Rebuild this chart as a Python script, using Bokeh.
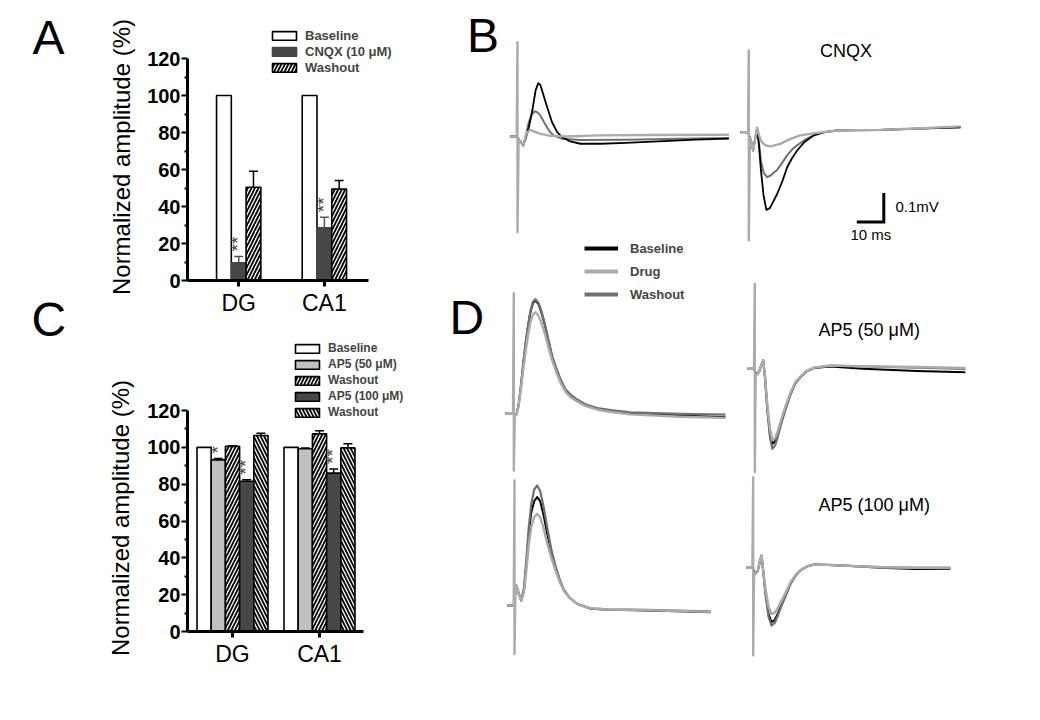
import math
from bokeh.plotting import figure
from bokeh.models import (Range1d, FixedTicker, Legend, LegendItem, Whisker, TeeHead,
                          ColumnDataSource)
from bokeh.layouts import row, column
from bokeh.embed import file_html
from bokeh.resources import INLINE
from bokeh.core.properties import value

FONT = "Liberation Sans"

# ----------------------------------------------------------------- data
groups = ["DG", "CA1"]
group_pos = [1, 2]
y_ticks = [0, 20, 40, 60, 80, 100, 120]
y_minor = [10, 30, 50, 70, 90, 110]
y_title = "Normalized amplitude (%)"

# Panel A  (normalized amplitude, %)
a_baseline = [100.0, 100.0]
a_cnqx = [9.6, 28.5]
a_cnqx_err = [3.4, 5.7]
a_washout = [50.4, 49.4]
a_washout_err = [8.6, 4.6]
a_cnqx_sig = ["**", "**"]

# Panel C  (normalized amplitude, %)
c_baseline = [100.0, 100.0]
c_ap5_50 = [93.2, 99.2]
c_ap5_50_err = [0.8, 0.4]
c_washout1 = [100.5, 107.3]
c_washout1_err = [0.4, 1.7]
c_ap5_100 = [81.6, 86.0]
c_ap5_100_err = [0.8, 2.3]
c_washout2 = [106.4, 99.7]
c_washout2_err = [1.3, 2.2]
c_ap5_50_sig = ["*", ""]
c_ap5_100_sig = ["**", "**"]

# Field potential traces (time in ms from stimulus, voltage in mV)
bl_base_t = [-2.8, -0.3, 0.8, 2.1, 3.1, 4.2, 5.0, 5.7, 6.7, 7.7, 8.4, 9.1, 10.0, 11.0, 12.8, 14.7, 16.5, 19.6, 23.3, 30.7, 40.0, 54.2, 66.0, 78.3]
bl_base_mv = [0.0, 0.0, -0.015, -0.031, -0.005, 0.032, 0.068, 0.101, 0.159, 0.184, 0.179, 0.159, 0.131, 0.101, 0.049, 0.015, -0.002, -0.017, -0.025, -0.025, -0.022, -0.016, -0.011, -0.007]
bl_wash_t = [-2.8, -0.3, 0.8, 2.1, 3.0, 4.2, 5.3, 6.4, 7.4, 8.5, 9.7, 11.0, 12.2, 13.5, 16.5, 23.3, 40.0, 60.0, 78.3]
bl_wash_mv = [0.0, 0.0, -0.015, -0.031, 0.0, 0.049, 0.076, 0.087, 0.083, 0.072, 0.052, 0.030, 0.014, 0.003, -0.008, -0.012, -0.011, -0.008, -0.005]
bl_drug_t = [-2.8, -0.3, 0.0, 0.0, 0.4, 1.0, 2.1, 3.0, 3.6, 4.8, 6.0, 8.5, 12.2, 18.4, 30.0, 50.0, 78.3]
bl_drug_mv = [0.0, 0.0, 0.325, -0.33, -0.01, -0.02, -0.031, 0.0, 0.015, 0.023, 0.018, 0.009, 0.002, 0.0, 0.004, 0.005, 0.006]

br_base_t = [-3.1, -0.3, 0.8, 1.6, 2.4, 3.1, 3.8, 4.5, 5.5, 6.5, 7.8, 9.0, 10.5, 12.4, 14.2, 16.0, 17.9, 20.5, 24.1, 28.0, 32.7, 48.8, 62.0, 78.4]
br_base_mv = [0.0, 0.0, -0.03, -0.063, -0.02, 0.015, -0.05, -0.132, -0.22, -0.268, -0.262, -0.24, -0.213, -0.17, -0.121, -0.09, -0.063, -0.035, -0.011, 0.0, 0.006, 0.008, 0.012, 0.017]
br_wash_t = [-3.1, -0.3, 0.8, 1.6, 2.4, 3.1, 3.8, 4.5, 5.5, 6.8, 8.0, 9.2, 10.5, 12.4, 14.2, 16.0, 17.9, 21.0, 24.1, 28.0, 32.7, 48.8, 62.0, 78.4]
br_wash_mv = [0.0, 0.0, -0.03, -0.063, -0.02, 0.015, -0.04, -0.10, -0.14, -0.155, -0.15, -0.14, -0.13, -0.105, -0.08, -0.06, -0.045, -0.025, -0.01, 0.0, 0.006, 0.008, 0.012, 0.017]
br_drug_t = [-3.1, -0.3, 0.0, 0.0, 0.4, 0.8, 1.6, 2.4, 3.1, 3.8, 4.5, 6.0, 8.0, 11.7, 15.0, 19.0, 24.0, 32.7, 48.8, 62.0, 78.4]
br_drug_mv = [0.0, 0.0, 0.282, -0.373, -0.02, -0.03, -0.063, -0.02, 0.015, -0.01, -0.03, -0.045, -0.049, -0.04, -0.025, -0.011, -0.004, 0.006, 0.008, 0.013, 0.02]

dtl_base_t = [-3.1, -0.3, 1.0, 1.8, 2.6, 3.5, 4.4, 5.3, 6.2, 7.1, 8.0, 9.2, 10.3, 11.4, 12.8, 14.2, 15.8, 17.3, 19.2, 21.3, 23.5, 26.5, 30.9, 36.0, 43.2, 61.7, 78.4]
dtl_base_mv = [0.0, 0.0, -0.005, 0.03, 0.09, 0.17, 0.24, 0.30, 0.35, 0.38, 0.389, 0.375, 0.345, 0.308, 0.25, 0.193, 0.15, 0.113, 0.078, 0.058, 0.044, 0.028, 0.015, 0.008, 0.0, -0.008, -0.014]
dtl_wash_t = dtl_base_t
dtl_wash_mv = [0.0, 0.0, -0.005, 0.03, 0.09, 0.172, 0.245, 0.305, 0.355, 0.385, 0.393, 0.38, 0.35, 0.312, 0.255, 0.198, 0.155, 0.117, 0.082, 0.062, 0.047, 0.031, 0.018, 0.011, 0.003, -0.002, -0.005]
dtl_drug_t = [-3.1, -0.3, 0.0, 0.0, 0.4, 1.0, 1.8, 2.6, 3.5, 4.4, 5.3, 6.2, 7.1, 8.0, 9.2, 10.3, 11.4, 12.8, 14.2, 15.8, 17.3, 19.2, 21.3, 23.5, 26.5, 30.9, 36.0, 43.2, 61.7, 78.4]
dtl_drug_mv = [0.0, 0.0, 0.414, -0.198, -0.01, -0.005, 0.025, 0.08, 0.15, 0.215, 0.27, 0.315, 0.34, 0.348, 0.335, 0.31, 0.278, 0.228, 0.182, 0.14, 0.105, 0.073, 0.053, 0.04, 0.025, 0.012, 0.004, -0.004, -0.012, -0.016]

dtr_base_t = [-2.8, -0.3, 0.6, 1.5, 2.3, 3.1, 3.8, 4.6, 5.6, 6.5, 7.5, 8.5, 9.6, 11.5, 13.3, 15.0, 16.9, 19.0, 21.9, 28.0, 40.0, 60.0, 78.0]
dtr_base_mv = [0.0, 0.0, -0.02, -0.012, 0.01, 0.029, -0.03, -0.132, -0.22, -0.259, -0.25, -0.225, -0.19, -0.135, -0.086, -0.05, -0.029, -0.01, 0.003, 0.008, 0.0, -0.008, -0.012]
dtr_wash_t = dtr_base_t
dtr_wash_mv = [0.0, 0.0, -0.02, -0.012, 0.01, 0.029, -0.035, -0.14, -0.235, -0.276, -0.265, -0.235, -0.195, -0.135, -0.086, -0.05, -0.029, -0.01, 0.003, 0.011, 0.008, 0.004, 0.0]
dtr_drug_t = [-2.8, -0.3, 0.0, 0.0, 0.3, 0.6, 1.5, 2.3, 3.1, 3.8, 4.6, 5.6, 6.5, 7.5, 8.5, 9.6, 11.5, 13.3, 15.0, 16.9, 19.0, 21.9, 28.0, 40.0, 60.0, 78.0]
dtr_drug_mv = [0.0, 0.0, 0.293, -0.356, -0.03, -0.02, -0.012, 0.01, 0.029, -0.025, -0.12, -0.205, -0.245, -0.24, -0.215, -0.18, -0.125, -0.08, -0.046, -0.027, -0.008, 0.004, 0.011, 0.009, 0.006, 0.003]

dbl_base_t = [-2.7, -0.3, 0.7, 1.6, 2.5, 3.5, 4.4, 5.3, 6.2, 7.3, 8.4, 9.5, 10.8, 12.1, 13.6, 15.2, 16.8, 18.3, 20.5, 23.2, 28.0, 35.0, 49.0, 60.0, 72.6]
dbl_base_mv = [0.0, 0.0, 0.069, 0.04, 0.017, 0.05, 0.14, 0.25, 0.32, 0.36, 0.374, 0.36, 0.31, 0.247, 0.185, 0.132, 0.085, 0.052, 0.025, 0.006, -0.011, -0.015, -0.017, -0.02, -0.023]
dbl_wash_t = dbl_base_t
dbl_wash_mv = [0.0, 0.0, 0.069, 0.04, 0.017, 0.06, 0.16, 0.27, 0.35, 0.40, 0.414, 0.395, 0.34, 0.27, 0.195, 0.135, 0.088, 0.054, 0.026, 0.006, -0.01, -0.013, -0.015, -0.018, -0.02]
dbl_drug_t = [-2.7, -0.3, 0.0, 0.0, 0.3, 0.7, 1.6, 2.5, 3.5, 4.4, 5.3, 6.2, 7.3, 8.4, 9.5, 10.8, 12.1, 13.6, 15.2, 16.8, 18.3, 20.5, 23.2, 28.0, 35.0, 49.0, 60.0, 72.6]
dbl_drug_mv = [0.0, 0.0, 0.431, -0.167, 0.03, 0.069, 0.04, 0.017, 0.045, 0.12, 0.21, 0.27, 0.305, 0.316, 0.305, 0.265, 0.215, 0.165, 0.12, 0.08, 0.05, 0.025, 0.006, -0.01, -0.014, -0.016, -0.019, -0.022]

dbr_base_t = [-2.5, -0.3, 0.8, 1.7, 2.4, 3.1, 3.8, 4.6, 5.7, 6.8, 8.0, 9.0, 10.1, 12.0, 13.8, 15.6, 17.5, 20.0, 22.4, 28.0, 34.8, 47.1, 60.0, 73.0]
dbr_base_mv = [0.0, 0.0, -0.02, -0.01, 0.02, 0.042, -0.02, -0.09, -0.16, -0.187, -0.18, -0.16, -0.136, -0.095, -0.055, -0.028, -0.009, 0.005, 0.011, 0.01, 0.007, 0.0, -0.004, -0.003]
dbr_wash_t = dbr_base_t
dbr_wash_mv = [0.0, 0.0, -0.02, -0.01, 0.02, 0.042, -0.022, -0.095, -0.17, -0.199, -0.19, -0.168, -0.14, -0.097, -0.056, -0.028, -0.009, 0.005, 0.011, 0.01, 0.007, 0.002, 0.0, 0.0]
dbr_drug_t = [-2.5, -0.3, 0.0, 0.0, 0.3, 0.8, 1.7, 2.4, 3.1, 3.8, 4.6, 5.7, 6.8, 8.0, 9.0, 10.1, 12.0, 13.8, 15.6, 17.5, 20.0, 22.4, 28.0, 34.8, 47.1, 60.0, 73.0]
dbr_drug_mv = [0.0, 0.0, 0.312, -0.302, -0.03, -0.02, -0.01, 0.02, 0.042, -0.015, -0.075, -0.135, -0.159, -0.155, -0.14, -0.12, -0.085, -0.05, -0.025, -0.008, 0.005, 0.011, 0.01, 0.007, 0.002, 0.0, 0.0]

scale_ms = 10      # scale bar
scale_mv = 0.1
trace_labels = ["Baseline", "Drug", "Washout"]

# ----------------------------------------------------------------- layout constants (page px)
PAGE = 0
COL1_R = 136    # panel letters + y titles
COL2_R = 445    # bar charts
COL3_R = 1032   # traces
ROW_SPLIT = 318
BOTTOM = 712
BASE_SHIFT = 0.37   # em correction for text baseline placement


def bl(y, size):
    return y - BASE_SHIFT * size


def bar_panel(fig_box, frame_box, dg_px, ca1_px, y120_px, axis_end_px, bar_px,
              series, legend_xy, legend_font):
    fl, ft, fr, fb = fig_box
    L, T, R, B = frame_box
    ux = ca1_px - dg_px
    x0 = group_pos[0] - (dg_px - L) / ux
    x1 = group_pos[1] + (R - ca1_px) / ux
    uy = (B - y120_px) / 120.0
    y1 = (B - T) / uy
    p = figure(width=fr - fl, height=fb - ft, x_range=Range1d(x0, x1), y_range=Range1d(0, y1),
               min_border_left=L - fl, min_border_right=fr - R, min_border_top=T - ft,
               min_border_bottom=fb - B, output_backend="svg", toolbar_location=None,
               outline_line_color=None, background_fill_color="white", border_fill_color="white")
    p.xgrid.visible = False
    p.ygrid.visible = False

    yax = p.yaxis[0]
    yax.ticker = FixedTicker(ticks=y_ticks, minor_ticks=y_minor)
    yax.bounds = (0, 120)
    yax.axis_line_width = 3
    yax.major_tick_line_width = 2
    yax.minor_tick_line_width = 2
    yax.major_tick_out = 6
    yax.major_tick_in = 0
    yax.minor_tick_out = 3
    yax.minor_tick_in = 0
    yax.major_label_standoff = 1
    yax.major_label_text_font = FONT
    yax.major_label_text_font_style = "bold"
    yax.major_label_text_font_size = "20px"
    yax.major_label_text_color = "black"

    xax = p.xaxis[0]
    xax.ticker = FixedTicker(ticks=group_pos, minor_ticks=[])
    xax.major_label_overrides = {gp: g for gp, g in zip(group_pos, groups)}
    xax.bounds = (x0, group_pos[1] + (axis_end_px - ca1_px) / ux)
    xax.axis_line_width = 3
    xax.major_tick_line_width = 3
    xax.major_tick_out = 6
    xax.major_tick_in = 0
    xax.major_label_standoff = 3
    xax.major_label_text_font = FONT
    xax.major_label_text_font_size = "23px"
    xax.major_label_text_color = "black"

    n = len(series)
    w = bar_px / ux
    items = []
    for i, s in enumerate(series):
        off = (i - (n - 1) / 2.0) * w
        xs = [g + off for g in group_pos]
        kw = dict(fill_color=s["fill"], line_color=s.get("line", "black"), line_width=1.6)
        if s.get("hatch"):
            kw.update(hatch_pattern=s["hatch"], hatch_color="black", hatch_weight=1.8, hatch_scale=7)
        r = p.vbar(x=xs, top=s["vals"], width=w, bottom=0, **kw)
        items.append(LegendItem(label=s["label"], renderers=[r]))
        if s.get("err"):
            tops = [v + e for v, e in zip(s["vals"], s["err"])]
            src = ColumnDataSource(dict(x=xs, lo=s["vals"], hi=tops))
            ec = s.get("err_color", "black")
            p.add_layout(Whisker(source=src, base="x", lower="lo", upper="hi", dimension="height",
                                 line_color=ec, line_width=1.5, lower_head=None,
                                 upper_head=TeeHead(size=9, line_color=ec, line_width=1.5)))
        if s.get("sig"):
            tops = [v + e for v, e in zip(s["vals"], s["err"])]
            p.text(x=xs, y=tops, text=s["sig"], angle=math.pi / 2, text_align="left",
                   text_baseline="middle", x_offset=-1, y_offset=-5, text_color="#444444",
                   text_font=value(FONT), text_font_size="19px")

    leg = Legend(items=items, location=legend_xy, orientation="vertical",
                 glyph_width=30, glyph_height=11, label_height=16, spacing=0,
                 padding=0, margin=0, label_standoff=6, border_line_color=None,
                 background_fill_alpha=0, label_text_font=FONT, label_text_font_style="bold",
                 label_text_font_size=legend_font)
    p.add_layout(leg)
    return p


DARK = "#474747"
LIGHT = "#c0c0c0"

# ---------------- Panel A
A_FRAME = (183, PAGE, COL2_R, 280)
a_series = [
    dict(vals=a_baseline, label="Baseline", fill="white"),
    dict(vals=a_cnqx, err=a_cnqx_err, label="CNQX (10 μM)", fill=DARK, line=DARK,
         err_color="#555555", sig=a_cnqx_sig),
    dict(vals=a_washout, err=a_washout_err, label="Washout", fill="white", hatch="/"),
]
pa = bar_panel((COL1_R, PAGE, COL2_R, ROW_SPLIT), A_FRAME, 235, 322, 58, 367, 15,
               a_series, (265 - A_FRAME[0], A_FRAME[3] - 75), "13px")

# ---------------- Panel C
C_FRAME = (187, ROW_SPLIT, COL2_R, 631)
c_series = [
    dict(vals=c_baseline, label="Baseline", fill="white"),
    dict(vals=c_ap5_50, err=c_ap5_50_err, label="AP5 (50 μM)", fill=LIGHT, sig=c_ap5_50_sig),
    dict(vals=c_washout1, err=c_washout1_err, label="Washout", fill="white", hatch="/"),
    dict(vals=c_ap5_100, err=c_ap5_100_err, label="AP5 (100 μM)", fill=DARK, sig=c_ap5_100_sig),
    dict(vals=c_washout2, err=c_washout2_err, label="Washout", fill="white", hatch="\\"),
]
pc = bar_panel((COL1_R, ROW_SPLIT, COL2_R, BOTTOM), C_FRAME, 232, 319, 410, 363, 14.2,
               c_series, (292 - C_FRAME[0], C_FRAME[3] - 420), "12px")

# ---------------- panel letters A, C and y-axis titles
pl = figure(width=COL1_R - PAGE, height=BOTTOM - PAGE, x_range=Range1d(PAGE, COL1_R),
            y_range=Range1d(BOTTOM, PAGE), x_axis_type=None, y_axis_type=None,
            min_border=0, output_backend="svg", toolbar_location=None, outline_line_color=None)
pl.xgrid.visible = False
pl.ygrid.visible = False
pl.text(x=[32, 31], y=[bl(55, 48), bl(337, 48)], text=["A", "C"], text_font=value(FONT),
        text_font_size="48px", text_baseline="alphabetic", text_align="left", text_color="black")
pl.text(x=[120.5, 119.5], y=[156.5, 517.5], text=[y_title, y_title], angle=math.pi / 2,
        text_font=value(FONT), text_font_size="24px", text_baseline="middle",
        text_align="center", text_color="black")

# ---------------- traces (B, D)
PX_PER_MS = 2.7
PX_PER_MV = 290.0
pr = figure(width=COL3_R - COL2_R, height=BOTTOM - PAGE, x_range=Range1d(COL2_R, COL3_R),
            y_range=Range1d(BOTTOM, PAGE), x_axis_type=None, y_axis_type=None,
            min_border=0, output_backend="svg", toolbar_location=None, outline_line_color=None)
pr.xgrid.visible = False
pr.ygrid.visible = False

TRACE_ORIGINS = {"bl": (517, 136), "br": (748.3, 131.7), "dtl": (513.3, 412.7),
                 "dtr": (754.3, 368.3), "dbl": (514, 605), "dbr": (752.7, 567.3)}
for name, (ox, oy) in TRACE_ORIGINS.items():
    pr.extra_x_ranges[name] = Range1d((COL2_R - ox) / PX_PER_MS, (COL3_R - ox) / PX_PER_MS)
    pr.extra_y_ranges[name] = Range1d((oy - BOTTOM) / PX_PER_MV, (oy - PAGE) / PX_PER_MV)

C_BASE, C_DRUG, C_WASH = "#000000", "#ababab", "#707070"
traces = {
    "bl": [(bl_wash_t, bl_wash_mv, C_WASH, 2.0), (bl_base_t, bl_base_mv, C_BASE, 1.8), (bl_drug_t, bl_drug_mv, C_DRUG, 2.4)],
    "br": [(br_wash_t, br_wash_mv, C_WASH, 2.0), (br_base_t, br_base_mv, C_BASE, 1.8), (br_drug_t, br_drug_mv, C_DRUG, 2.4)],
    "dtl": [(dtl_base_t, dtl_base_mv, C_BASE, 2.0), (dtl_wash_t, dtl_wash_mv, C_WASH, 2.2), (dtl_drug_t, dtl_drug_mv, C_DRUG, 2.4)],
    "dtr": [(dtr_base_t, dtr_base_mv, C_BASE, 2.0), (dtr_wash_t, dtr_wash_mv, C_WASH, 2.2), (dtr_drug_t, dtr_drug_mv, C_DRUG, 2.4)],
    "dbl": [(dbl_base_t, dbl_base_mv, C_BASE, 2.0), (dbl_wash_t, dbl_wash_mv, C_WASH, 2.2), (dbl_drug_t, dbl_drug_mv, C_DRUG, 2.4)],
    "dbr": [(dbr_base_t, dbr_base_mv, C_BASE, 2.0), (dbr_wash_t, dbr_wash_mv, C_WASH, 2.2), (dbr_drug_t, dbr_drug_mv, C_DRUG, 2.4)],
}
for name, lst in traces.items():
    for t, mv, col, lw in lst:
        pr.line(t, mv, x_range_name=name, y_range_name=name, line_color=col, line_width=lw,
                line_join="round")

# scale bar (drawn in panel B-right units)
SB_T, SB_V = 50.0, -0.31
pr.line([SB_T - scale_ms, SB_T, SB_T], [SB_V, SB_V, SB_V + scale_mv], x_range_name="br",
        y_range_name="br", line_color="black", line_width=3, line_join="miter")

# texts
pr.text(x=[466.5, 449], y=[bl(53, 48), bl(335, 48)], text=["B", "D"], text_font=value(FONT),
        text_font_size="48px", text_baseline="alphabetic", text_align="left", text_color="black")
pr.text(x=[845.5], y=[bl(57, 18)], text=["CNQX"], text_font=value(FONT), text_font_size="18px",
        text_baseline="alphabetic", text_align="center", text_color="black")
pr.text(x=[818, 818], y=[bl(336, 18), bl(511, 18)], text=["AP5 (50 μM)", "AP5 (100 μM)"],
        text_font=value(FONT), text_font_size="18px", text_baseline="alphabetic",
        text_align="left", text_color="black")
pr.text(x=[895, 850], y=[bl(212, 15), bl(240, 15)], text=["0.1mV", "10 ms"], text_font=value(FONT),
        text_font_size="15px", text_baseline="alphabetic", text_align="left", text_color="black")

# legend for traces (thick sample lines, no visible data)
NAN = float("nan")
dummy = [pr.line([NAN], [NAN], line_color=c, line_width=4) for c in (C_BASE, C_DRUG, C_WASH)]
tleg = Legend(items=[LegendItem(label=l, renderers=[r]) for l, r in zip(trace_labels, dummy)],
              location=(584 - COL2_R, BOTTOM - 304), orientation="vertical",
              glyph_width=34, glyph_height=20, label_height=20, spacing=3, padding=0, margin=0,
              label_standoff=12, border_line_color=None, background_fill_alpha=0,
              label_text_font=FONT, label_text_font_style="bold", label_text_font_size="13px")
pr.add_layout(tleg)

layout = row(pl, column(pa, pc, spacing=0), pr, spacing=0)
open("out.html", "w").write(file_html(layout, INLINE))
